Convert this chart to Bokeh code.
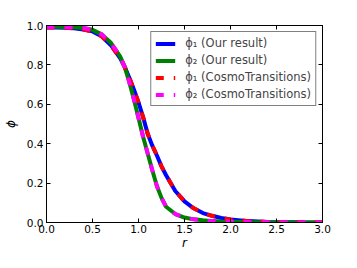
from bokeh.plotting import figure
from bokeh.models import Range1d, LinearAxis, FixedTicker, Legend, LegendItem, NumeralTickFormatter
from bokeh.embed import file_html
from bokeh.resources import INLINE

r = [0.0, 0.1, 0.2, 0.3, 0.4, 0.5, 0.6, 0.7, 0.8, 0.85, 0.9, 0.95, 1.0, 1.05, 1.1,
     1.15, 1.2, 1.25, 1.3, 1.4, 1.5, 1.6, 1.7, 1.8, 1.9, 2.0, 2.2, 2.4, 2.6, 2.8, 3.0]
phi1 = [0.99, 0.99, 0.989, 0.986, 0.98, 0.97, 0.945, 0.90, 0.835, 0.79, 0.735, 0.675,
        0.61, 0.535, 0.45, 0.39, 0.34, 0.285, 0.24, 0.16, 0.107, 0.072, 0.048, 0.034,
        0.023, 0.015, 0.007, 0.003, 0.0015, 0.0007, 0.0003]
phi2 = [0.994, 0.994, 0.993, 0.991, 0.987, 0.978, 0.955, 0.912, 0.843, 0.79, 0.712,
        0.625, 0.53, 0.435, 0.35, 0.265, 0.185, 0.125, 0.08, 0.043, 0.025, 0.016, 0.011,
        0.007, 0.005, 0.004, 0.002, 0.001, 0.0005, 0.0002, 0.0]

xticks = [0.0, 0.5, 1.0, 1.5, 2.0, 2.5, 3.0]
yticks = [0.0, 0.2, 0.4, 0.6, 0.8, 1.0]
labels = ["\u03d5\u2081 (Our result)", "\u03d5\u2082 (Our result)",
          "\u03d5\u2081 (CosmoTransitions)", "\u03d5\u2082 (CosmoTransitions)"]

FONT = "DejaVu Sans"

p = figure(width=341, height=252, output_backend="svg", toolbar_location=None,
           x_range=Range1d(0, 3), y_range=Range1d(0, 1),
           min_border_left=44, min_border_right=19, min_border_top=25, min_border_bottom=10)
p.grid.visible = False
p.outline_line_color = "black"
p.outline_line_width = 1
p.background_fill_color = "white"
p.border_fill_color = "white"

for ax in (p.xaxis[0], p.yaxis[0]):
    ax.major_tick_in = 4
    ax.major_tick_out = 0
    ax.minor_tick_line_color = None
    ax.major_label_text_font = FONT
    ax.major_label_text_font_size = "10.5px"
    ax.major_label_text_color = "black"
    ax.axis_line_color = "black"
    ax.major_tick_line_color = "black"
    ax.axis_label_text_font = FONT
    ax.axis_label_text_font_style = "italic"
    ax.axis_label_text_font_size = "12px"
    ax.axis_label_text_color = "black"
    ax.formatter = NumeralTickFormatter(format="0.0")

p.xaxis.ticker = FixedTicker(ticks=xticks)
p.yaxis.ticker = FixedTicker(ticks=yticks)
p.xaxis.axis_label = "r"
p.yaxis.axis_label = "\u03d5"
p.xaxis.major_label_standoff = 2
p.yaxis.major_label_standoff = 3
p.xaxis.axis_label_standoff = 0
p.yaxis.axis_label_standoff = 6

top = LinearAxis(ticker=FixedTicker(ticks=xticks),
                 major_label_overrides={t: "" for t in xticks},
                 major_tick_in=4, major_tick_out=0, minor_tick_line_color=None,
                 major_label_standoff=0, major_label_text_font_size="1px")
right = LinearAxis(ticker=FixedTicker(ticks=yticks),
                   major_label_overrides={t: "" for t in yticks},
                   major_tick_in=4, major_tick_out=0, minor_tick_line_color=None,
                   major_label_standoff=0, major_label_text_font_size="1px")
p.add_layout(top, "above")
p.add_layout(right, "right")

l1 = p.line(r, phi1, line_color="#0000ff", line_width=4)
l2 = p.line(r, phi2, line_color="#008000", line_width=4)
l3 = p.line(r, phi1, line_color="#ff0000", line_width=4, line_dash="8 10")
l4 = p.line(r, phi2, line_color="#ff00ff", line_width=4, line_dash="8 10")

legend = Legend(items=[LegendItem(label=labels[0], renderers=[l1]),
                       LegendItem(label=labels[1], renderers=[l2]),
                       LegendItem(label=labels[2], renderers=[l3]),
                       LegendItem(label=labels[3], renderers=[l4])],
                location="top_right")
legend.label_text_font = FONT
legend.label_text_font_size = "11.5px"
legend.label_height = 13
legend.glyph_height = 13
legend.glyph_width = 20
legend.spacing = 3
legend.padding = 4
legend.margin = 6
legend.border_line_color = "black"
legend.border_line_width = 1
legend.background_fill_alpha = 1
legend.label_standoff = 10
p.add_layout(legend)

open("out.html", "w").write(file_html(p, INLINE))
